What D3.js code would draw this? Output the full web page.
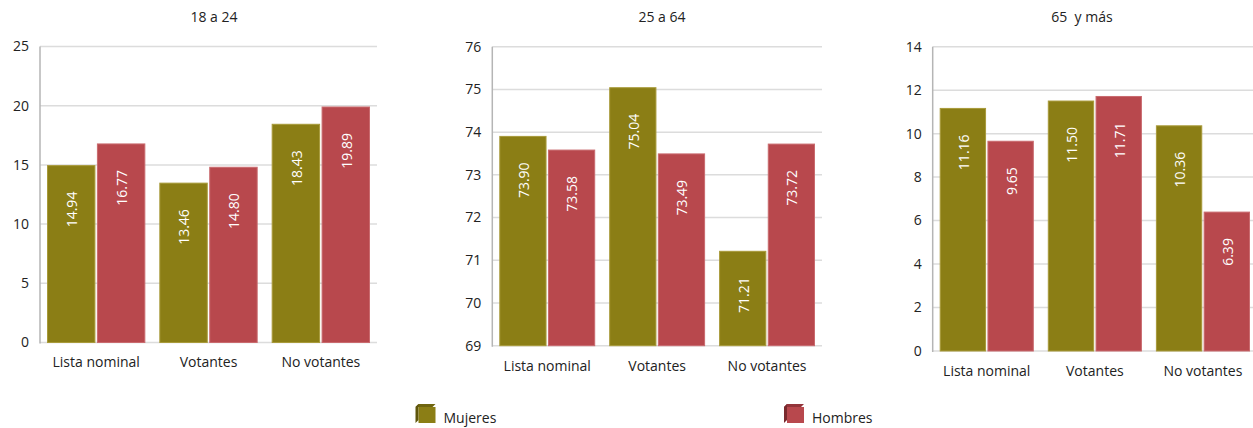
<!DOCTYPE html>
<html><head><meta charset="utf-8">
<script src="https://cdn.jsdelivr.net/npm/d3@7"></script>
<style>
html,body{margin:0;padding:0;background:#fff;}
svg{display:block;font-family:"Open Sans",sans-serif;}
svg text{white-space:pre;}
</style></head>
<body>
<svg id="c" width="1253" height="428"></svg>
<script>
const categories = ["Lista nominal", "Votantes", "No votantes"];
const seriesNames = ["Mujeres", "Hombres"];
const panelTitles = ["18 a 24", "25 a 64", "65  y más"];
const mujeres18 = [14.94, 13.46, 18.43];
const hombres18 = [16.77, 14.80, 19.89];
const mujeres25 = [73.90, 75.04, 71.21];
const hombres25 = [73.58, 73.49, 73.72];
const mujeres65 = [11.16, 11.50, 10.36];
const hombres65 = [9.65, 11.71, 6.39];
const ticks18 = [0, 5, 10, 15, 20, 25];
const ticks25 = [69, 70, 71, 72, 73, 74, 75, 76];
const ticks65 = [0, 2, 4, 6, 8, 10, 12, 14];

const colors = ["#8b7e15", "#b8484d"];
const strokes = ["#a89a3a", "#c96a6e"];

const panels = [
  {title: panelTitles[0], data: [mujeres18, hombres18], ticks: ticks18, x0: 40, x1: 377, y0: 342.5, y1: 46.5, tx: 214},
  {title: panelTitles[1], data: [mujeres25, hombres25], ticks: ticks25, x0: 492.3, x1: 822, y0: 345.7, y1: 46.7, tx: 662},
  {title: panelTitles[2], data: [mujeres65, hombres65], ticks: ticks65, x0: 932.7, x1: 1257, y0: 351, y1: 46.7, tx: 1082}
];

const svg = d3.select("#c");

panels.forEach(p => {
  const g = svg.append("g");
  const y = d3.scaleLinear().domain([p.ticks[0], p.ticks[p.ticks.length-1]]).range([p.y0, p.y1]);
  const x = d3.scaleBand().domain(categories).range([p.x0, p.x1]).padding(0);
  const inner = d3.scaleBand().domain(seriesNames).range([7.5, x.bandwidth() - 7.5]).paddingInner(0.05);

  g.selectAll("line.grid").data(p.ticks).join("line")
    .attr("x1", p.x0).attr("x2", p.x1)
    .attr("y1", d => y(d)).attr("y2", d => y(d))
    .attr("stroke", "#dcdcdc").attr("stroke-width", 1.5);

  g.selectAll("text.tick").data(p.ticks).join("text")
    .attr("x", p.x0 - 11).attr("y", d => y(d)).attr("dy", "0.35em")
    .attr("text-anchor", "end").attr("font-size", 14).attr("fill", "#222")
    .text(d => d);

  g.append("line").attr("x1", p.x0).attr("x2", p.x0).attr("y1", p.y1).attr("y2", p.y0 + 1)
    .attr("stroke", "#b5b5b5").attr("stroke-width", 1.5);

  const bars = [];
  categories.forEach((c, ci) => {
    seriesNames.forEach((s, si) => {
      bars.push({c, s, si, v: p.data[si][ci]});
    });
  });
  g.selectAll("rect.bar").data(bars).join("rect")
    .attr("x", d => x(d.c) + inner(d.s))
    .attr("width", inner.bandwidth())
    .attr("y", d => y(d.v))
    .attr("height", d => y.range()[0] - y(d.v))
    .attr("fill", d => colors[d.si])
    .attr("stroke", d => strokes[d.si]).attr("stroke-width", 1);

  g.selectAll("text.val").data(bars).join("text")
    .attr("transform", d => `translate(${x(d.c) + inner(d.s) + inner.bandwidth()/2 + 1},${y(d.v) + 26}) rotate(-90)`)
    .attr("text-anchor", "end").attr("dy", "0.35em")
    .attr("font-size", 14).attr("fill", "#fff")
    .text(d => d.v.toFixed(2));

  g.selectAll("text.cat").data(categories).join("text")
    .attr("x", d => x(d) + x.bandwidth()/2).attr("y", p.y0 + 20).attr("dy", "0.35em")
    .attr("text-anchor", "middle").attr("font-size", 14).attr("fill", "#222")
    .text(d => d);

  g.append("text").attr("x", p.tx).attr("y", 17).attr("dy", "0.35em")
    .attr("text-anchor", "middle").attr("font-size", 14).attr("fill", "#222")
    .text(p.title);
});

const legendX = [415.5, 784];
const darker = ["#5e550c", "#7a2a2e"];
const mid = ["#6f650f", "#93343a"];
seriesNames.forEach((s, i) => {
  const lg = svg.append("g").attr("transform", `translate(${legendX[i]},404)`);
  lg.append("path").attr("d", "M0,3 L3,0 L20,0 L17,3 Z").attr("fill", mid[i]);
  lg.append("path").attr("d", "M0,3 L3,0 L3,16 L0,19 Z").attr("fill", darker[i]);
  lg.append("rect").attr("x", 3).attr("y", 3).attr("width", 17).attr("height", 16).attr("fill", colors[i]);
  lg.append("text").attr("x", 28).attr("y", 14).attr("dy", "0.35em")
    .attr("font-size", 14).attr("fill", "#222").text(s);
});
</script>
</body></html>
